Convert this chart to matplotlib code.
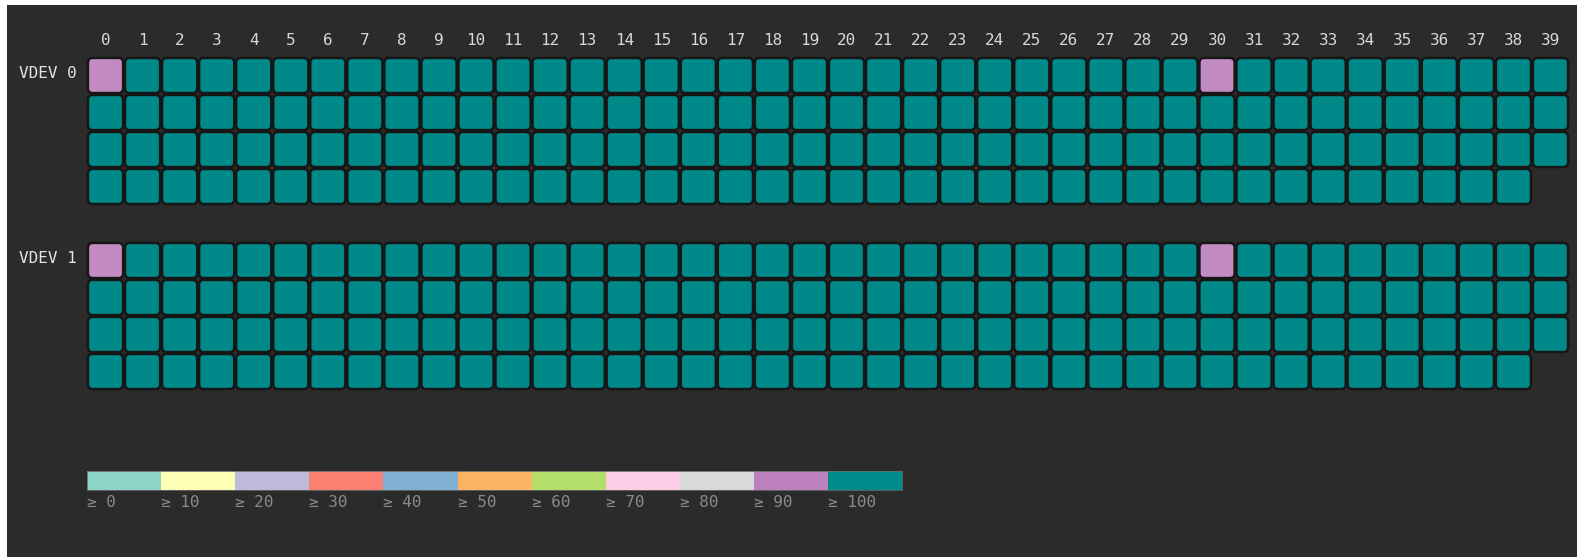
import matplotlib.pyplot as plt
from matplotlib.patches import FancyBboxPatch, Rectangle

# values per vdev, read row by row (40 columns, last row has 39)
vdev_names = ["VDEV 0", "VDEV 1"]
vdev0_values = [95] + [100] * 29 + [95] + [100] * 9 + [100] * 40 + [100] * 40 + [100] * 39
vdev1_values = [95] + [100] * 29 + [95] + [100] * 9 + [100] * 40 + [100] * 40 + [100] * 39
vdev_values = [vdev0_values, vdev1_values]

n_cols = 40
col_labels = [str(i) for i in range(n_cols)]

# legend thresholds and colours
thresholds = [0, 10, 20, 30, 40, 50, 60, 70, 80, 90, 100]
colors = ['#8dd3c7', '#ffffb3', '#bebada', '#fb8072', '#80b1d3', '#fdb462',
          '#b3de69', '#fccde5', '#d9d9d9', '#bc80bd', '#008b8b']
cell_colors = ['#8dd3c7', '#ffffb3', '#bebada', '#fb8072', '#80b1d3', '#fdb462',
               '#b3de69', '#fccde5', '#d9d9d9', '#c38bc3', '#008989']

BG = '#2b2b2b'
W, H = 1577, 557


def color_for(v, cmap):
    c = cmap[0]
    for t, col in zip(thresholds, cmap):
        if v >= t:
            c = col
    return c


fig = plt.figure(figsize=(W / 100, H / 100), dpi=100, facecolor='white')
ax = fig.add_axes([7 / W, 0, 1 - 7 / W, 1 - 5 / H])
ax.set_facecolor(BG)
px = 37.05
x0 = (7 - 87) / px
x1 = (1577 - 87) / px
y0 = (5 - 57) / 37.0
y1 = (557 - 57) / 37.0
ax.set_xlim(x0, x1)
ax.set_ylim(y1, y0)
ax.axis('off')
ax.add_patch(Rectangle((x0, y0), x1 - x0, y1 - y0, color=BG, zorder=0))

mono = 'DejaVu Sans Mono'

for i, lab in enumerate(col_labels):
    ax.text(i + 0.5, -0.44, lab, ha='center', va='center', fontsize=11.5,
            family=mono, color='#d8d8d8')

row_offset = 0
for name, vals in zip(vdev_names, vdev_values):
    ax.text(-0.27, row_offset + 0.45, name, ha='right', va='center', fontsize=11.5,
            family=mono, color='#e4e4e4')
    for k, v in enumerate(vals):
        r = row_offset + k // n_cols
        c = k % n_cols
        p = FancyBboxPatch((c + 0.025, r + 0.025), 0.95, 0.95,
                           boxstyle="round,pad=0,rounding_size=0.13",
                           facecolor=color_for(v, cell_colors), edgecolor='#161616',
                           linewidth=1.8, zorder=2)
        ax.add_patch(p)
    row_offset += 5

# legend bar
ly = (471 - 57) / 37.0
lh = (490 - 471) / 37.0
for i, (t, col) in enumerate(zip(thresholds, colors)):
    ax.add_patch(Rectangle((2 * i, ly), 2, lh, facecolor=col, edgecolor='none', zorder=2))
    ax.text(2 * i, ly + lh + 0.33, '≥ %d' % t, ha='left', va='center', fontsize=11.5,
            family=mono, color='#8a8a8a')
ax.add_patch(Rectangle((0, ly), 22, lh, facecolor='none', edgecolor='#6a6a6a',
                       linewidth=0.6, zorder=3))

fig.savefig('out.png', dpi=100, facecolor='white')
